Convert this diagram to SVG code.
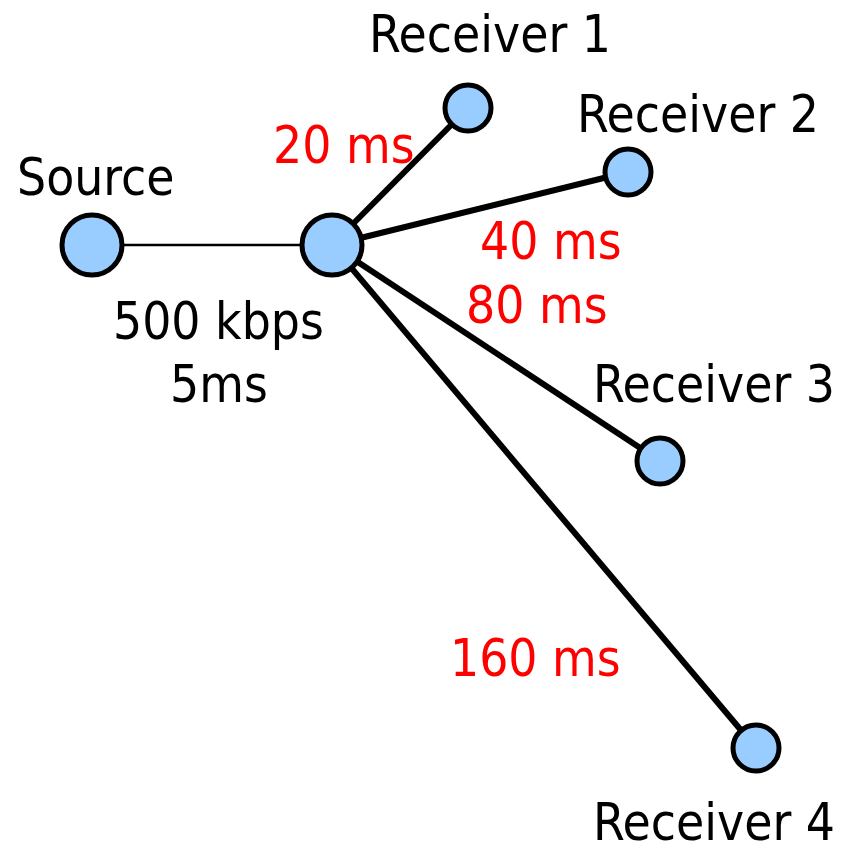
<svg xmlns="http://www.w3.org/2000/svg" width="850" height="853" viewBox="0 0 850 853">
<style>
.node{fill:#99CCFF;stroke:#000;stroke-width:5}
.edge{stroke:#000;stroke-width:6;fill:none}
.thin{stroke:#000;stroke-width:2.5;fill:none}
text{font-family:"DejaVu Sans Condensed","DejaVu Sans",sans-serif;font-stretch:condensed;font-size:51px}
.lbl{fill:#000}
.red{fill:#FF0000}
</style>
<rect width="850" height="853" fill="#fff"/>
<g id="connectors">
<line class="thin" x1="92" y1="245" x2="332" y2="245"/>
<line class="edge" x1="332" y1="245" x2="468" y2="108"/>
<line class="edge" x1="332" y1="245" x2="628" y2="172"/>
<line class="edge" x1="332" y1="245" x2="660" y2="461"/>
<line class="edge" x1="332" y1="245" x2="756" y2="748"/>
</g>
<g id="source"><circle class="node" cx="92" cy="245" r="30"/><text class="lbl" x="17" y="195">Source</text></g>
<g id="hub"><circle class="node" cx="332" cy="245" r="30"/></g>
<g id="receiver1"><circle class="node" cx="468" cy="108" r="23"/><text class="lbl" x="369" y="52">Receiver 1</text></g>
<g id="receiver2"><circle class="node" cx="628" cy="172" r="23"/><text class="lbl" x="577" y="132">Receiver 2</text></g>
<g id="receiver3"><circle class="node" cx="660" cy="461" r="23"/><text class="lbl" x="593" y="402">Receiver 3</text></g>
<g id="receiver4"><circle class="node" cx="756" cy="748" r="23"/><text class="lbl" x="593" y="840">Receiver 4</text></g>
<g id="labels">
<text class="red" x="273" y="163">20 ms</text>
<text class="red" x="480" y="259">40 ms</text>
<text class="red" x="466" y="323">80 ms</text>
<text class="red" x="450" y="676">160 ms</text>
<text class="lbl" x="113" y="339">500 kbps</text>
<text class="lbl" x="170" y="402">5ms</text>
</g>
</svg>
